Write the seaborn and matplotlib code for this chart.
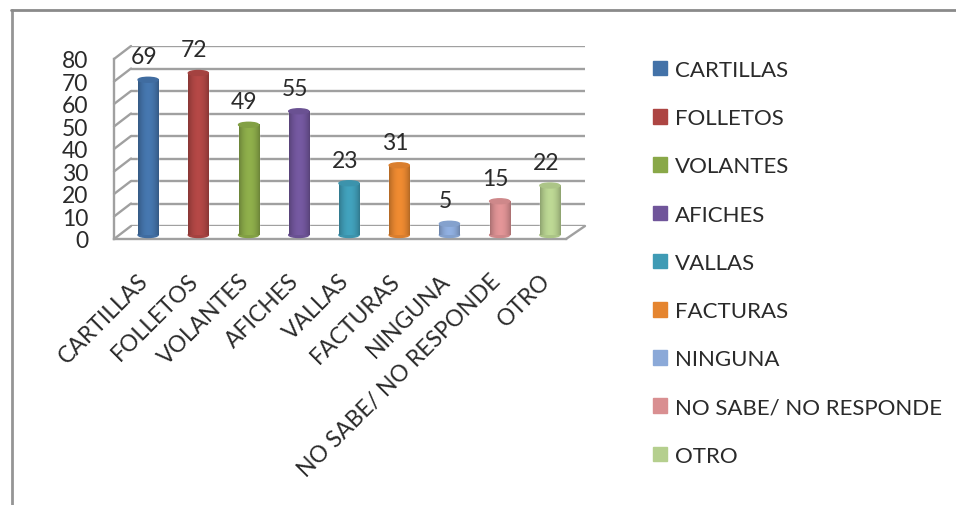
import numpy as np
import matplotlib
matplotlib.use("Agg")
import matplotlib.pyplot as plt
from matplotlib.lines import Line2D
from matplotlib.patches import ConnectionPatch, Ellipse, Patch
import pandas as pd
import seaborn as sns

categories = ["CARTILLAS", "FOLLETOS", "VOLANTES", "AFICHES", "VALLAS", "FACTURAS",
              "NINGUNA", "NO SABE/ NO RESPONDE", "OTRO"]
values = [69, 72, 49, 55, 23, 31, 5, 15, 22]
colors = ["#4372a8", "#ad4543", "#89a848", "#70559a", "#3f9bb5", "#e5852f",
          "#8ba9d8", "#d98f91", "#b5cf8e"]
y_ticks = [0, 10, 20, 30, 40, 50, 60, 70, 80]

W, H = 956, 506
GRID = "#a0a0a0"
TEXT = "#2a2a2a"


def px_axes(fig, left, right, top, bottom):
    return fig.add_axes([left / W, 1 - bottom / H, (right - left) / W, (bottom - top) / H])


def shade(ax, bar, color):
    # horizontal gradient so the bars read as cylinders
    x0, w, h = bar.get_x(), bar.get_width(), bar.get_height()
    rgb = np.array(matplotlib.colors.to_rgb(color))
    t = np.linspace(0, 1, 40)
    f = 0.78 + 0.27 * np.sin(t * np.pi) ** 0.8
    img = np.clip(rgb[None, :] * f[:, None], 0, 1)[None, :, :]
    ax.imshow(img, extent=(x0, x0 + w, 0, h), aspect="auto", zorder=3)
    ry = 1.1
    ax.add_patch(Ellipse((x0 + w / 2, 0), w, 2 * ry, color=rgb * 0.95, zorder=2.9, clip_on=False))
    ax.add_patch(Ellipse((x0 + w / 2, h), w, 2 * ry, color=rgb * 0.95, zorder=3.1, clip_on=False))


sns.set_theme(style="white")
plt.rcParams["font.family"] = ["Lato", "DejaVu Sans"]

df = pd.DataFrame({"categoria": categories, "valor": values})

fig = plt.figure(figsize=(W / 100, H / 100), dpi=100)

# frame of the pasted picture, only top and left are visible
fig.add_artist(Line2D([12 / W, 12 / W], [0, 1 - 11 / H], color="#959595", linewidth=2.0))
fig.add_artist(Line2D([11 / W, 1], [1 - 11 / H, 1 - 11 / H], color="#8a8a8a", linewidth=2.0))

# back wall with the gridlines
back = px_axes(fig, 131, 585, 47, 227)
back.set_xlim(0, 9)
back.set_ylim(0, 80)
back.set_yticks(y_ticks)
back.set_xticks([])
back.tick_params(left=False, labelleft=False)
back.grid(axis="y", color=GRID, linewidth=1.7)
back.set_axisbelow(True)
sns.despine(ax=back, left=True, bottom=True)

# front plane holds the tick marks and labels
front = px_axes(fig, 114, 566, 60, 240)
front.patch.set_alpha(0)
front.set_xlim(0, 9)
front.set_ylim(0, 80)
front.set_yticks(y_ticks)
front.set_yticklabels(y_ticks, fontsize=16.5, color=TEXT, va="center_baseline")
front.set_xticks(np.arange(0, 10))
front.set_xticklabels([])
front.tick_params(axis="both", length=5.5, width=1.5, color=GRID, direction="out")
front.tick_params(axis="y", pad=13)
for i, name in enumerate(categories):
    front.annotate(name, xy=(i + 0.5, 0), xycoords="data", xytext=(-1, -22),
                   textcoords="offset points", rotation=45, ha="right", va="top",
                   rotation_mode="anchor", fontsize=16.5, color=TEXT)
sns.despine(ax=front, top=True, right=True)
front.spines["left"].set_color(GRID)
front.spines["bottom"].set_color(GRID)
front.spines["left"].set_linewidth(1.7)
front.spines["bottom"].set_linewidth(1.7)

# floor and side depth lines
for t in y_ticks:
    fig.add_artist(ConnectionPatch((0, t), (0, t), "data", "data", axesA=front, axesB=back,
                                   color=GRID, linewidth=1.7))
fig.add_artist(ConnectionPatch((9, 0), (9, 0), "data", "data", axesA=front, axesB=back,
                               color=GRID, linewidth=1.7))

# bars sit between both planes
bars = px_axes(fig, 123, 575, 56, 236)
bars.patch.set_alpha(0)
sns.barplot(data=df, x="categoria", y="valor", hue="categoria", palette=colors, legend=False,
            width=0.4, saturation=1, ax=bars)
bars.set_xlim(-0.5, 8.5)
bars.set_ylim(0, 80)
bars.axis("off")
for bar, color, v in zip(bars.patches, colors, values):
    shade(bars, bar, color)
    bars.annotate(str(v), xy=(bar.get_x() + bar.get_width() / 2, v), xytext=(-3, 9),
                  textcoords="offset points", ha="center", va="bottom", fontsize=16.5,
                  color=TEXT, annotation_clip=False, zorder=5)
bars.set_xlim(-0.5, 8.5)
bars.set_ylim(0, 80)

handles = [Patch(facecolor=c, edgecolor=c, label=n) for c, n in zip(colors, categories)]
fig.legend(handles=handles, loc="upper left", bbox_to_anchor=(653 / W, 1 - 61 / H), frameon=False,
           fontsize=16, labelcolor=TEXT, handlelength=0.63, handleheight=0.63, handletextpad=0.36,
           labelspacing=1.27, borderpad=0, borderaxespad=0)

fig.savefig("out.png", dpi=100)
